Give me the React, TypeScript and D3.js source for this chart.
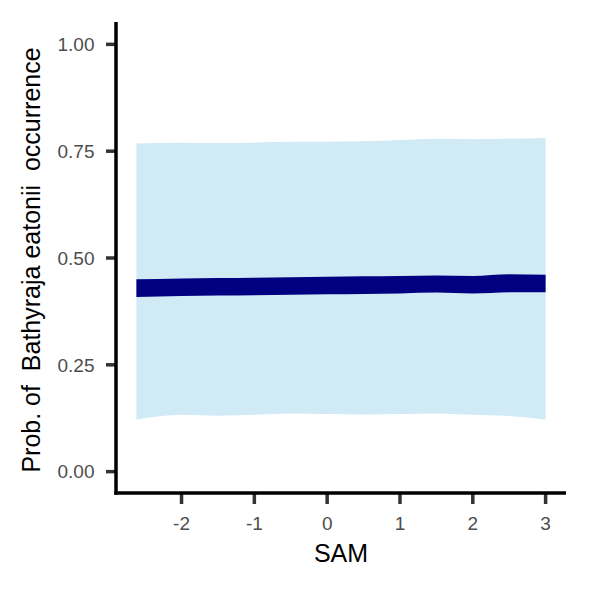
import React from 'react';
import * as d3 from 'd3';

// values
const sam = [-2.62, -2, -1.5, -1, -0.5, 0, 0.5, 1, 1.5, 2, 2.5, 3.0];
const outerHi = [0.768, 0.770, 0.769, 0.770, 0.772, 0.772, 0.773, 0.776, 0.779, 0.778, 0.779, 0.781];
const outerLo = [0.122, 0.133, 0.131, 0.133, 0.136, 0.135, 0.134, 0.135, 0.136, 0.133, 0.130, 0.122];
const innerHi = [0.450, 0.452, 0.453, 0.454, 0.455, 0.456, 0.457, 0.458, 0.459, 0.458, 0.462, 0.461];
const innerLo = [0.409, 0.411, 0.412, 0.413, 0.414, 0.415, 0.416, 0.417, 0.419, 0.417, 0.420, 0.420];
const xTicks = [-2, -1, 0, 1, 2, 3];
const yTicks = [0, 0.25, 0.5, 0.75, 1];

const W = 590;
const H = 590;
const margin = { top: 23, right: 24, bottom: 97, left: 116 };
const font = '"Liberation Sans", Arial, sans-serif';

const App = () => {
  const x = d3.scaleLinear().domain([-2.9, 3.28]).range([margin.left, W - margin.right]);
  const y = d3.scaleLinear().domain([-0.05, 1.05]).range([H - margin.bottom, margin.top]);

  const rows = sam.map((s, i) => ({ s, oh: outerHi[i], ol: outerLo[i], ih: innerHi[i], il: innerLo[i] }));

  const outer = d3.area<any>()
    .x(d => x(d.s))
    .y0(d => y(d.ol))
    .y1(d => y(d.oh))
    .curve(d3.curveMonotoneX);
  const inner = d3.area<any>()
    .x(d => x(d.s))
    .y0(d => y(d.il))
    .y1(d => y(d.ih))
    .curve(d3.curveMonotoneX);

  const x0 = margin.left;
  const y0 = H - margin.bottom;

  return (
    <svg width={W} height={H} style={{ position: 'absolute', left: 0, top: 0, background: '#fff' }}
      fontFamily={font}>
      <path d={outer(rows) || ''} fill="#d0eaf6" />
      <path d={inner(rows) || ''} fill="#000080" />

      {/* y axis */}
      {yTicks.map(t => (
        <g key={t}>
          <line x1={x0 - 10} x2={x0} y1={y(t)} y2={y(t)} stroke="#333" strokeWidth={3.5} />
          <text x={x0 - 21.5} y={y(t)} dy="0.36em" textAnchor="end" fontSize={19} fill="#4d4d4d">
            {d3.format('.2f')(t)}
          </text>
        </g>
      ))}
      {/* x axis */}
      {xTicks.map(t => (
        <g key={t}>
          <line x1={x(t)} x2={x(t)} y1={y0} y2={y0 + 11} stroke="#333" strokeWidth={3.5} />
          <text x={x(t)} y={530} textAnchor="middle" fontSize={19} fill="#4d4d4d">
            {d3.format('')(t).replace('−', '-')}
          </text>
        </g>
      ))}
      <line x1={x0} x2={x0} y1={margin.top - 1} y2={y0 + 1.75} stroke="#000" strokeWidth={3.5} />
      <line x1={x0 - 1.75} x2={W - margin.right} y1={y0} y2={y0} stroke="#000" strokeWidth={3.5} />

      <text x={(x0 + W - margin.right) / 2} y={562} textAnchor="middle" fontSize={25} fill="#000">SAM</text>
      <text transform={`translate(40,260) rotate(-90)`} textAnchor="middle"
        fontSize={25} fill="#000" style={{ whiteSpace: 'pre' }}>
        {'Prob. of  Bathyraja eatonii  occurrence'}
      </text>
    </svg>
  );
};

export default App;
